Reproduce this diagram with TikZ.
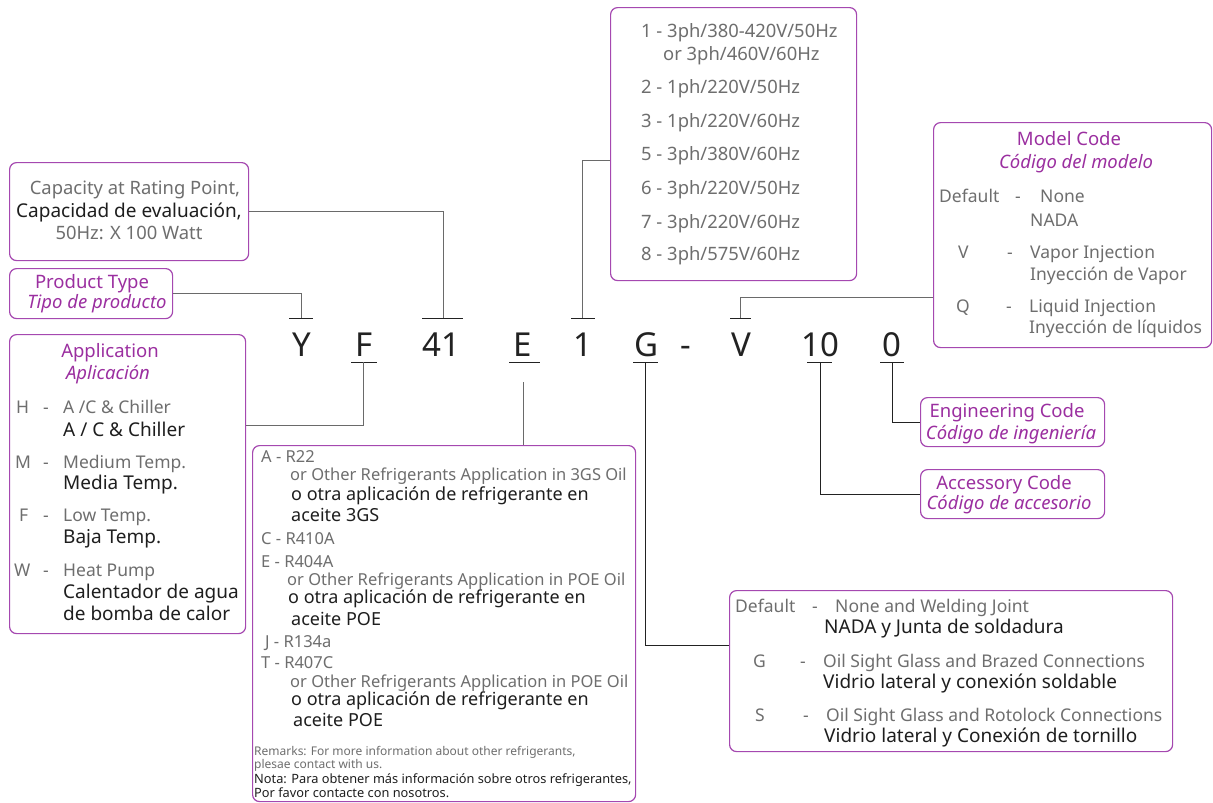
\documentclass[tikz,border=0pt]{standalone}
\usepackage{fontspec}
\setmainfont{Noto Sans}
\definecolor{bd}{HTML}{A548B0}
\definecolor{pt}{HTML}{9B2FA0}
\definecolor{en}{HTML}{6E6E6E}
\definecolor{es}{HTML}{1E1E1E}
\definecolor{ln}{HTML}{6A6A6A}
\definecolor{tk}{HTML}{222222}
\tikzset{
  box/.style={draw=bd, rounded corners=7pt, line width=1.2pt, inner sep=0pt, anchor=north west},
  conn/.style={draw=ln, line width=0.9pt},
  tick/.style={draw=tk, line width=1pt},
  entx/.style={text=en, inner sep=0pt, font=\fontsize{17.5}{19}\selectfont},
  enbig/.style={text=en, inner sep=0pt, font=\fontsize{18.4}{20}\selectfont},
  estx/.style={text=es, inner sep=0pt, font=\fontsize{19}{20}\selectfont},
  renx/.style={text=en, inner sep=0pt, font=\fontsize{16.5}{18}\selectfont},
  resx/.style={text=es, inner sep=0pt, font=\fontsize{18}{19}\selectfont},
  ttl/.style={text=pt, inner sep=0pt, font=\fontsize{18.5}{20}\selectfont},
  ttli/.style={text=pt, inner sep=0pt, font=\fontsize{18.5}{20}\selectfont\itshape},
  code/.style={text=tk, inner sep=0pt, anchor=base, font=\fontsize{33}{36}\selectfont},
  sm/.style={inner sep=0pt, anchor=base west, font=\fontsize{12}{13}\selectfont},
  sms/.style={inner sep=0pt, anchor=base west, font=\fontsize{12.8}{13}\selectfont},
}
\begin{document}
\begin{tikzpicture}[x=1pt,y=-1pt]
\useasboundingbox[fill=white] (0,0) rectangle (1213,803);
% boxes
\node[box, minimum width=239pt, minimum height=98pt] (cap) at (9,162) {};
\node[box, minimum width=163pt, minimum height=50pt] (ptb) at (9,268) {};
\node[box, minimum width=236pt, minimum height=299pt] (app) at (9,334) {};
\node[box, minimum width=383pt, minimum height=356pt] (ref) at (252,445) {};
\node[box, minimum width=246pt, minimum height=273pt] (volt) at (610,7) {};
\node[box, minimum width=278pt, minimum height=225pt] (model) at (933,122) {};
\node[box, minimum width=184pt, minimum height=49pt] (eng) at (920,397) {};
\node[box, minimum width=184pt, minimum height=49pt] (acc) at (920,469) {};
\node[box, minimum width=443pt, minimum height=161pt] (cb) at (729,590) {};
% code letters
\node[code] (cY) at (302,356) {Y};
\node[code] (cF) at (364,356) {F};
\node[code] (c41) at (441,356) {41};
\node[code] (cE) at (523,356) {E};
\node[code] (c1) at (583,356) {1};
\node[code] (cG) at (647,356) {G};
\node[code] (cD) at (686,356) {-};
\node[code] (cV) at (741,356) {V};
\node[code] (c10) at (820,356) {10};
\node[code] (c0) at (892,356) {0};
% tick coordinates
\coordinate (uY) at (301,318);
\coordinate (u41) at (443,318);
\coordinate (u1) at (582,318);
\coordinate (uV) at (740,318);
\coordinate (dF) at (363,362);
\coordinate (dE) at (523,362);
\coordinate (dG) at (645,362);
\coordinate (d10) at (820,362);
\coordinate (d0) at (892,362);
\draw[tick] ([xshift=-12pt]uY) -- ([xshift=12pt]uY);
\draw[tick] ([xshift=-21pt]u41) -- ([xshift=20pt]u41);
\draw[tick] ([xshift=-11pt]u1) -- ([xshift=13pt]u1);
\draw[tick] ([xshift=-10pt]uV) -- ([xshift=11pt]uV);
\draw[tick] ([xshift=-12pt]dF) -- ([xshift=14pt]dF);
\draw[tick] ([xshift=-14pt]dE) -- ([xshift=17pt]dE);
\draw[tick] ([xshift=-12pt]dG) -- ([xshift=13pt]dG);
\draw[tick] ([xshift=-13pt]d10) -- ([xshift=12pt]d10);
\draw[tick] ([xshift=-12pt]d0) -- ([xshift=12pt]d0);
% connectors
\coordinate (vj) at (582,160);
\coordinate (mj) at (740,297);
\coordinate (aj) at (363,425);
\coordinate (ej) at (523,382);
\coordinate (gj) at (645,645);
\draw[conn] (ptb.east) -| (uY);
\draw[conn] (cap.east) -| (u41);
\draw[conn] (u1) -- (vj) -- (vj -| volt.west);
\draw[conn] (uV) -- (mj) -- (mj -| model.west);
\draw[conn] (dF) -- (aj) -- (aj -| app.east);
\draw[conn] (ej) -- (ej |- ref.north);
\draw[conn,draw=tk] (dG) -- (gj) -- (gj -| cb.west);
\draw[conn,draw=tk] (d10) |- (acc.west);
\draw[conn,draw=tk] (d0) |- (eng.west);
% capacity
\node[enbig, anchor=base] (cap1) at (135,194) {Capacity at Rating Point,};
\node[estx, anchor=base] (cap2) at (129,217) {Capacidad de evaluación,};
\node[enbig, anchor=base] (cap3) at (129,239) {50Hz: X 100 Watt};
% product type
\node[ttl, anchor=base] (pt1) at (92,288) {Product Type};
\node[ttli, anchor=base] (pt2) at (97,308) {Tipo de producto};
% application
\node[ttl, anchor=base] (ap1) at (110,357) {Application};
\node[ttli, anchor=base] (ap2) at (108,379) {Aplicación};
\begin{scope}[every node/.append style={anchor=base west}]
\node[entx] (apH) at (16,413) {H};
\node[entx] (apHd) at (43,413) {-};
\node[entx] (apH1) at (63,413) {A /C \& Chiller};
\node[estx] (apH2) at (63,436) {A / C \& Chiller};
\node[entx] (apM) at (15,468) {M};
\node[entx] (apMd) at (43,468) {-};
\node[entx] (apM1) at (63,468) {Medium Temp.};
\node[estx] (apM2) at (63,489) {Media Temp.};
\node[entx] (apF) at (19,521) {F};
\node[entx] (apFd) at (43,521) {-};
\node[entx] (apF1) at (63,521) {Low Temp.};
\node[estx] (apF2) at (63,543) {Baja Temp.};
\node[entx] (apW) at (14,576) {W};
\node[entx] (apWd) at (43,576) {-};
\node[entx] (apW1) at (63,576) {Heat Pump};
\node[estx] (apW2) at (63,598) {Calentador de agua};
\node[estx] (apW3) at (63,620) {de bomba de calor};
\end{scope}
% refrigerant
\begin{scope}[every node/.append style={anchor=base west}]
\node[renx] (rA) at (261,462) {A - R22};
\node[renx] (rA1) at (290,480) {or Other Refrigerants Application in 3GS Oil};
\node[resx] (rA2) at (291,500) {o otra aplicación de refrigerante en};
\node[resx] (rA3) at (291,521) {aceite 3GS};
\node[renx] (rC) at (261,544) {C - R410A};
\node[renx] (rE) at (261,567) {E - R404A};
\node[renx] (rE1) at (287,585) {or Other Refrigerants Application in POE Oil};
\node[resx] (rE2) at (288,603) {o otra aplicación de refrigerante en};
\node[resx] (rE3) at (291,625) {aceite POE};
\node[renx] (rJ) at (265,647) {J - R134a};
\node[renx] (rT) at (261,668) {T - R407C};
\node[renx] (rT1) at (290,687) {or Other Refrigerants Application in POE Oil};
\node[resx] (rT2) at (291,705) {o otra aplicación de refrigerante en};
\node[resx] (rT3) at (293,726) {aceite POE};
\end{scope}
\node[sm, text=en] (rm1) at (254,755) {Remarks: For more information about other refrigerants,};
\node[sm, text=en] (rm2) at (254,768) {plesae contact with us.};
\node[sms, text=es] (rm3) at (254,783) {Nota: Para obtener más información sobre otros refrigerantes,};
\node[sms, text=es] (rm4) at (254,797) {Por favor contacte con nosotros.};
% voltage
\begin{scope}[every node/.append style={anchor=base west}]
\node[enbig] (v1) at (641,37) {1 - 3ph/380-420V/50Hz};
\node[enbig] (v1b) at (663,60) {or 3ph/460V/60Hz};
\node[enbig] (v2) at (641,93) {2 - 1ph/220V/50Hz};
\node[enbig] (v3) at (641,127) {3 - 1ph/220V/60Hz};
\node[enbig] (v5) at (641,160) {5 - 3ph/380V/60Hz};
\node[enbig] (v6) at (641,194) {6 - 3ph/220V/50Hz};
\node[enbig] (v7) at (641,228) {7 - 3ph/220V/60Hz};
\node[enbig] (v8) at (641,260) {8 - 3ph/575V/60Hz};
\end{scope}
% model code
\node[ttl, anchor=base] (mc1) at (1069,145) {Model Code};
\node[ttli, anchor=base] (mc2) at (1076,168) {Código del modelo};
\begin{scope}[every node/.append style={anchor=base west}]
\node[entx] (mD) at (939,202) {Default};
\node[entx] (mDd) at (1015,202) {-};
\node[entx] (mD1) at (1040,202) {None};
\node[entx] (mD2) at (1030,226) {NADA};
\node[entx] (mV) at (958,258) {V};
\node[entx] (mVd) at (1007,258) {-};
\node[entx] (mV1) at (1030,258) {Vapor Injection};
\node[entx] (mV2) at (1030,280) {Inyección de Vapor};
\node[entx] (mQ) at (956,312) {Q};
\node[entx] (mQd) at (1006,312) {-};
\node[entx] (mQ1) at (1029,312) {Liquid Injection};
\node[entx] (mQ2) at (1029,333) {Inyección de líquidos};
\end{scope}
% engineering / accessory
\node[ttl, anchor=base] (en1) at (1007,417) {Engineering Code};
\node[ttli, anchor=base] (en2) at (1011,439) {Código de ingeniería};
\node[ttl, anchor=base] (ac1) at (1004,489) {Accessory Code};
\node[ttli, anchor=base] (ac2) at (1009,509) {Código de accesorio};
% connection box
\begin{scope}[every node/.append style={anchor=base west}]
\node[entx] (bD) at (735,612) {Default};
\node[entx] (bDd) at (812,612) {-};
\node[entx] (bD1) at (835,612) {None and Welding Joint};
\node[estx] (bD2) at (824,633) {NADA y Junta de soldadura};
\node[entx] (bG) at (753,667) {G};
\node[entx] (bGd) at (800,667) {-};
\node[entx] (bG1) at (823,667) {Oil Sight Glass and Brazed Connections};
\node[estx] (bG2) at (823,688) {Vidrio lateral y conexión soldable};
\node[entx] (bS) at (755,721) {S};
\node[entx] (bSd) at (803,721) {-};
\node[entx] (bS1) at (826,721) {Oil Sight Glass and Rotolock Connections};
\node[estx] (bS2) at (824,742) {Vidrio lateral y Conexión de tornillo};
\end{scope}
\end{tikzpicture}
\end{document}
